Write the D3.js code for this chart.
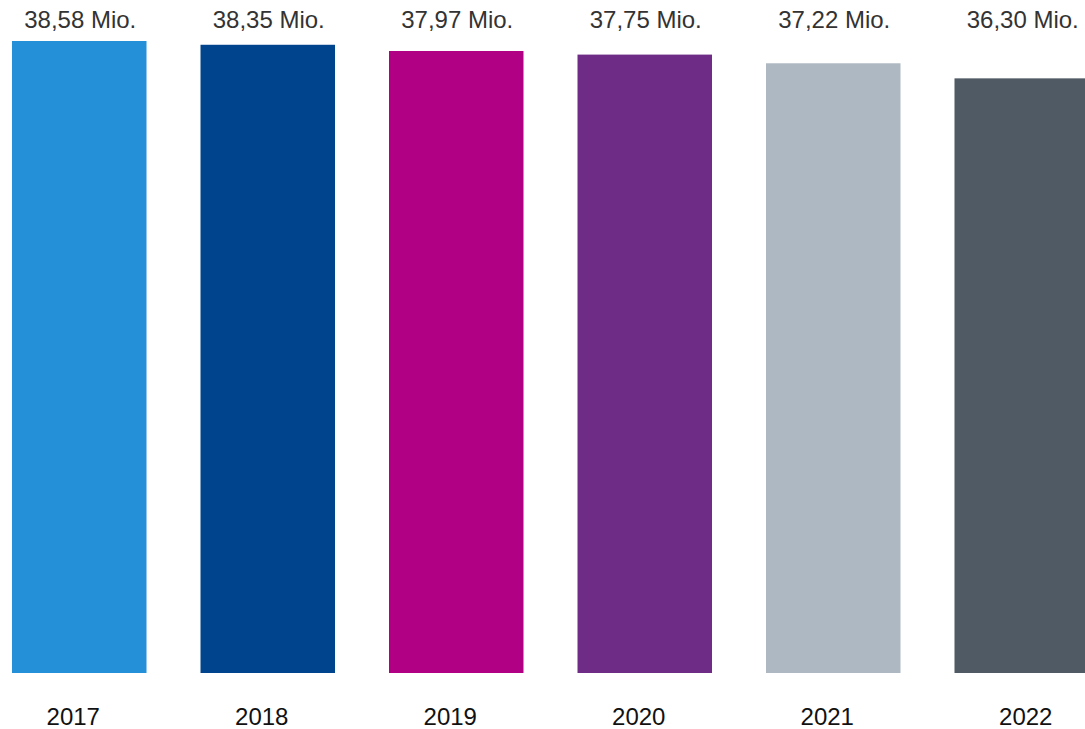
<!DOCTYPE html>
<html>
<head>
<meta charset="utf-8">
<script src="https://cdn.jsdelivr.net/npm/d3@7"></script>
<style>
    body { margin: 0; background: #fff; }
    text { font-family: "Liberation Sans", Arial, sans-serif; }
</style>
</head>
<body>
<div id="chart"></div>
<script>
const years = ['2017', '2018', '2019', '2020', '2021', '2022'];
const values = [38.58, 38.35, 37.97, 37.75, 37.22, 36.30];
const valueLabels = ['38,58 Mio.', '38,35 Mio.', '37,97 Mio.', '37,75 Mio.', '37,22 Mio.', '36,30 Mio.'];
const colors = ['#2490d8', '#00448e', '#b20085', '#6e2c87', '#aeb8c2', '#505a64'];

const width = 1085, height = 729;

const svg = d3.select('#chart')
    .append('svg')
    .attr('width', width)
    .attr('height', height);

const x = d3.scaleBand()
    .domain(years)
    .range([-15, 1116])
    .paddingInner(0.2865)
    .paddingOuter(0.1433);

const y = d3.scaleLinear()
    .domain([0, 38.58])
    .range([673, 41]);

svg.selectAll('.bar')
    .data(years)
    .enter()
    .append('rect')
    .attr('class', 'bar')
    .attr('x', d => x(d))
    .attr('width', x.bandwidth())
    .attr('y', (d, i) => y(values[i]))
    .attr('height', (d, i) => y(0) - y(values[i]))
    .attr('fill', (d, i) => colors[i]);

// value labels above the bars
svg.selectAll('.value')
    .data(years)
    .enter()
    .append('text')
    .attr('class', 'value')
    .attr('x', d => x(d) + x.bandwidth() / 2 + 1)
    .attr('y', 28)
    .attr('text-anchor', 'middle')
    .style('font-size', '24px')
    .attr('fill', '#333')
    .text((d, i) => valueLabels[i]);

// year labels
svg.selectAll('.year')
    .data(years)
    .enter()
    .append('text')
    .attr('class', 'year')
    .attr('x', (d, i) => x(d) + x.bandwidth() / 2 + (i === 5 ? 4 : -6))
    .attr('y', 725)
    .attr('text-anchor', 'middle')
    .style('font-size', '24px')
    .attr('fill', '#111')
    .text(d => d);
</script>
</body>
</html>
